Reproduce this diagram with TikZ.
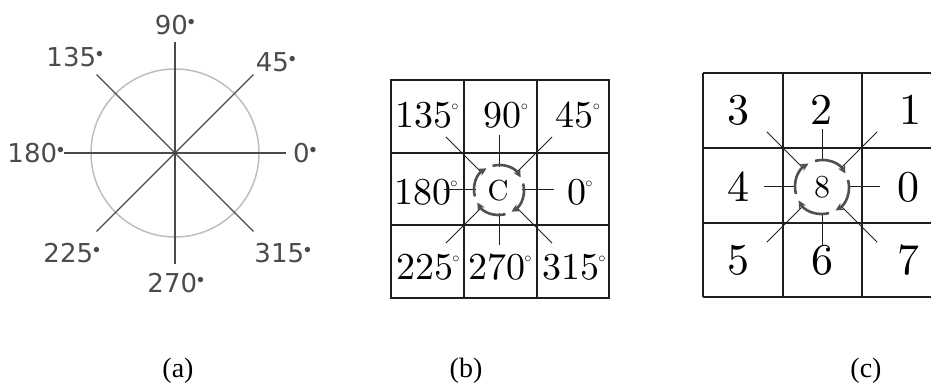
\documentclass[tikz,border=0pt]{standalone}
\usepackage{fontspec}
\usepackage{graphicx}
\usetikzlibrary{arrows.meta,calc}
\newfontfamily\dirfont{DejaVu Sans}
\newfontfamily\capfont{Liberation Serif}
\newfontfamily\gridfont{lmroman10-regular}[Extension=.otf]
\definecolor{Ink}{HTML}{1E1E1E}
\definecolor{AxisGray}{HTML}{4A4A4A}
\definecolor{RingGray}{HTML}{BEBEBE}
\definecolor{ArcGray}{HTML}{505050}
\newcommand{\degdot}{\textsuperscript{\scalebox{0.8}{$\bullet$}}}
\newcommand{\degring}{\kern-1pt\raisebox{17pt}{\fontsize{15}{15}\selectfont$\circ$}}

\begin{document}
\begin{tikzpicture}[
  x=1pt,y=1pt,
  angle/.style={font=\dirfont\fontsize{26}{28}\selectfont,text=Ink!80,inner sep=0pt},
  axis/.style={draw=AxisGray,line width=1.4pt},
  ring/.style={draw=RingGray,line width=1.5pt},
  cellgrid/.style={draw=Ink,line width=1.1pt},
  dirb/.style={font=\gridfont\fontsize{38}{40}\selectfont,anchor=base,inner sep=0pt},
  dirc/.style={font=\gridfont\fontsize{44}{46}\selectfont,anchor=base,inner sep=0pt},
  ray/.style={draw=Ink,line width=1pt},
  turn/.style={draw=ArcGray,line width=2.6pt,-{Stealth[length=8pt,width=8pt]}},
  caption/.style={font=\capfont\fontsize{28}{30}\selectfont,anchor=base}
]
  \useasboundingbox (0,0) rectangle (931,388);

  % (a) direction wheel
  \coordinate (ca) at (175,235);
  \draw[ring] (ca) circle[radius=84];
  \foreach \a in {0,45,...,315}
    \draw[axis] (ca) -- ($(ca)+(\a:111)$);
  \node[angle] (a0) at (305,235) {0\degdot};
  \node[angle] (a45) at (276,326) {45\degdot};
  \node[angle] (a90) at (175,363) {90\degdot};
  \node[angle] (a135) at (75,331) {135\degdot};
  \node[angle] (a180) at (36,235) {180\degdot};
  \node[angle] (a225) at (72,135) {225\degdot};
  \node[angle] (a270) at (176,105) {270\degdot};
  \node[angle] (a315) at (283,135) {315\degdot};

  % (b) angle grid
  \draw[cellgrid] (391,90) rectangle (609,308);
  \foreach \x in {464,537}
    \draw[cellgrid] (\x,90) -- (\x,308);
  \foreach \y in {163,235}
    \draw[cellgrid] (391,\y) -- (609,\y);
  \coordinate (cb) at (499,198);
  \node[font=\gridfont\fontsize{29}{31}\selectfont,anchor=base,inner sep=0pt] (lc) at (498,187) {C};
  \node[dirb] (b135) at (427,260) {135\degring};
  \node[dirb] (b90) at (506,260) {90\degring};
  \node[dirb] (b45) at (578,260) {45\degring};
  \node[dirb] (b180) at (426,183) {180\degring};
  \node[dirb] (b0) at (580,183) {0\degring};
  \node[dirb] (b225) at (428,108) {225\degring};
  \node[dirb] (b270) at (500,108) {270\degring};
  \node[dirb] (b315) at (574,108) {315\degring};
  \foreach \a in {0,90,180,270}
    \draw[ray] ($(cb)+(\a:23)$) -- ($(cb)+(\a:55)$);
  \foreach \a in {45,135,225,315}
    \draw[ray] ($(cb)+(\a:26)$) -- ($(cb)+(\a:75)$);
  \foreach \e in {30,-60,-150,120}
    \draw[turn] ($(cb)+(\e+75:25)$) arc[start angle=\e+75,end angle=\e,radius=25];

  % (c) chain code grid
  \foreach \y in {91,165,240,315}
    \draw[cellgrid] (703,\y) -- (931,\y);
  \foreach \x in {703,783,862}
    \draw[cellgrid] (\x,91) -- (\x,315);
  \coordinate (cc) at (822,201);
  \node[font=\gridfont\fontsize{32}{34}\selectfont,anchor=base,inner sep=0pt] (l8) at (822,190) {8};
  \node[dirc] (c3) at (738,263) {3};
  \node[dirc] (c2) at (821,263) {2};
  \node[dirc] (c1) at (910,263) {1};
  \node[dirc] (c4) at (738,186) {4};
  \node[dirc] (c0) at (908,186) {0};
  \node[dirc] (c5) at (738,113) {5};
  \node[dirc] (c6) at (822,113) {6};
  \node[dirc] (c7) at (908,113) {7};
  \foreach \a in {0,90,180,270}
    \draw[ray] ($(cc)+(\a:26)$) -- ($(cc)+(\a:58)$);
  \foreach \a in {45,135,225,315}
    \draw[ray] ($(cc)+(\a:28)$) -- ($(cc)+(\a:78)$);
  \foreach \e in {30,-60,-150,120}
    \draw[turn] ($(cc)+(\e+75:27)$) arc[start angle=\e+75,end angle=\e,radius=27];

  % captions
  \node[caption] (capa) at (178,10) {(a)};
  \node[caption] (capb) at (466,10) {(b)};
  \node[caption] (capc) at (866,10) {(c)};
\end{tikzpicture}
\end{document}
